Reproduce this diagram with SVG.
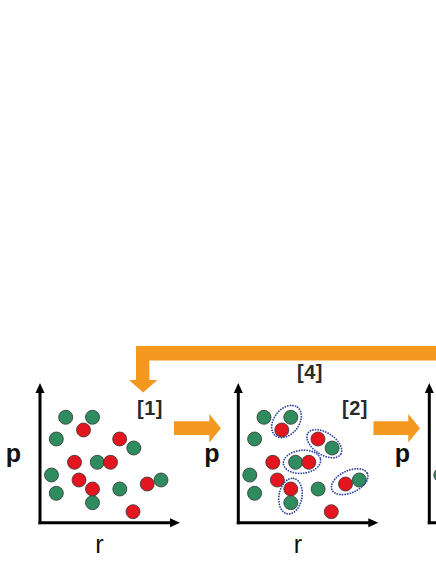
<svg xmlns="http://www.w3.org/2000/svg" xmlns:xlink="http://www.w3.org/1999/xlink" width="436" height="564" viewBox="0 0 436 564">
<style>
.g{fill:#2f8c5f;stroke:#333;stroke-width:0.8}
.r{fill:#e3161f;stroke:#333;stroke-width:0.8}
.ax{stroke:#000;stroke-width:3;fill:none}
.ah{fill:#000}
.pl{font-family:"Liberation Sans",Arial,sans-serif;font-weight:bold;font-size:25px;fill:#111}
.rl{font-family:"Liberation Sans",Arial,sans-serif;font-size:25px;fill:#111}
.st{font-family:"Liberation Sans",Arial,sans-serif;font-weight:bold;font-size:20px;fill:#2a2a2a;letter-spacing:0.5px}
.or{fill:#f4981f}
.bl{fill:none;stroke:#2b40a3;stroke-width:1.8;stroke-linecap:round;stroke-dasharray:0 2.6}
</style>
<defs>
<g id="axes">
<line class="ax" x1="40" y1="391" x2="40" y2="524.2"/>
<line class="ax" x1="38.5" y1="522.7" x2="171" y2="522.7"/>
<polygon class="ah" points="35.5,393 40,383 44.5,393"/>
<polygon class="ah" points="170,518.2 180,522.7 170,527.2"/>
</g>
<g id="dots">
<circle class="g" cx="65.7" cy="417.3" r="7"/>
<circle class="g" cx="92.5" cy="417.3" r="7"/>
<circle class="r" cx="83.5" cy="430" r="7"/>
<circle class="g" cx="56.3" cy="439" r="7"/>
<circle class="r" cx="119.7" cy="439" r="7"/>
<circle class="g" cx="133.8" cy="448" r="7"/>
<circle class="r" cx="74.5" cy="462.3" r="7"/>
<circle class="g" cx="97.3" cy="462.3" r="7"/>
<circle class="r" cx="110.5" cy="462.3" r="7"/>
<circle class="g" cx="51.5" cy="475" r="7"/>
<circle class="r" cx="79" cy="480" r="7"/>
<circle class="g" cx="161" cy="480" r="7"/>
<circle class="r" cx="147.2" cy="484" r="7"/>
<circle class="r" cx="92.5" cy="489" r="7"/>
<circle class="g" cx="119.8" cy="489" r="7"/>
<circle class="g" cx="56.3" cy="493.3" r="7"/>
<circle class="g" cx="92.5" cy="502.7" r="7"/>
<circle class="r" cx="133" cy="511.7" r="7"/>
</g>
</defs>

<g id="panel1">
<use xlink:href="#axes"/>
<use xlink:href="#dots"/>
<text class="pl" x="13.5" y="462" text-anchor="middle">p</text>
<text class="rl" x="99.5" y="553" text-anchor="middle">r</text>
</g>

<g id="panel2">
<use xlink:href="#axes" transform="translate(198.3,0)"/>
<use xlink:href="#dots" transform="translate(198.3,0)"/>
<text class="pl" x="211.8" y="462" text-anchor="middle">p</text>
<text class="rl" x="297.8" y="553" text-anchor="middle">r</text>
<g id="pairs">
<ellipse class="bl" cx="286.5" cy="421.5" rx="18" ry="12.5" transform="rotate(-52 286.5 421.5)"/>
<ellipse class="bl" cx="324.3" cy="443.7" rx="19.5" ry="11" transform="rotate(33 324.3 443.7)"/>
<ellipse class="bl" cx="302" cy="461.8" rx="18.7" ry="11.5" transform="rotate(-6 302 461.8)"/>
<ellipse class="bl" cx="290.5" cy="496.2" rx="18" ry="11.5" transform="rotate(-80 290.5 496.2)"/>
<ellipse class="bl" cx="349.7" cy="481.7" rx="19.5" ry="11" transform="rotate(-25 349.7 481.7)"/>
</g>
</g>

<g id="panel3">
<use xlink:href="#axes" transform="translate(389.3,0)"/>
<text class="pl" x="402.3" y="462" text-anchor="middle">p</text>
<circle class="g" cx="440.8" cy="475" r="7"/>
</g>

<g id="connectors">
<polygon class="or" points="440,346 136,346 136,380 129,380 143.2,392.5 157.4,380 149.4,380 149.4,360.5 440,360.5"/>
<polygon class="or" points="174,421.3 209.3,421.3 209.3,414 221,428.2 209.3,442.4 209.3,435.1 174,435.1"/>
<polygon class="or" points="373.5,421.3 408.3,421.3 408.3,414 420,428.2 408.3,442.4 408.3,435.1 373.5,435.1"/>
</g>

<g id="labels">
<text class="st" x="150" y="415" text-anchor="middle">[1]</text>
<text class="st" x="355" y="415" text-anchor="middle">[2]</text>
<text class="st" x="310" y="379" text-anchor="middle">[4]</text>
</g>
</svg>
